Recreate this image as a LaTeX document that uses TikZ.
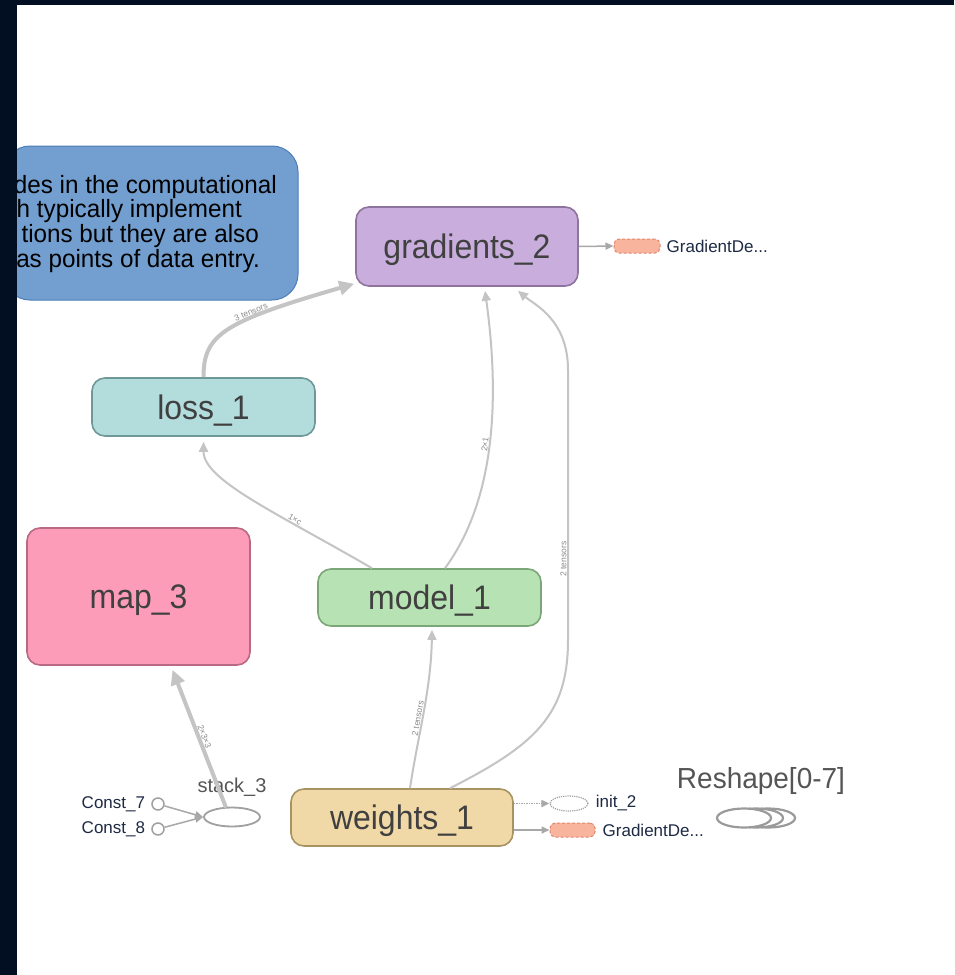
\documentclass[tikz,border=0pt]{standalone}
\usepackage{fontspec}
\setmainfont{Liberation Sans}
\usepackage{graphicx}
\usetikzlibrary{arrows.meta,shapes.geometric,calc}
\definecolor{bandc}{HTML}{020F22}
\definecolor{calloutf}{HTML}{729FD0}
\definecolor{calloutd}{HTML}{4D7DBA}
\definecolor{gradf}{HTML}{C9AEDD}
\definecolor{gradd}{HTML}{8F739F}
\definecolor{lossf}{HTML}{B3DCDD}
\definecolor{lossd}{HTML}{6F9899}
\definecolor{mapf}{HTML}{FD9CB9}
\definecolor{mapd}{HTML}{B86A82}
\definecolor{modelf}{HTML}{B7E2B3}
\definecolor{modeld}{HTML}{7BA677}
\definecolor{weightsf}{HTML}{F0D9A7}
\definecolor{weightsd}{HTML}{A89463}
\definecolor{edgec}{HTML}{C4C4C4}
\definecolor{smalledgec}{HTML}{A8A8A8}
\definecolor{salmon}{HTML}{F9B49E}
\definecolor{salmond}{HTML}{E0866B}
\definecolor{labc}{HTML}{404040}
\definecolor{smallc}{HTML}{1E2A44}
\definecolor{elabc}{HTML}{8A8A8A}
\definecolor{constc}{HTML}{A0A0A0}
\definecolor{reshc}{HTML}{555555}
\definecolor{reshd}{HTML}{9A9A9A}
\begin{document}
\begin{tikzpicture}[x=1pt,y=-1pt,
  opnode/.style={draw, line width=1.6pt, rounded corners=13pt, inner sep=0pt, text=labc,
    font=\fontsize{34}{34}\selectfont, text height=24.5pt, text depth=0pt},
  edge/.style={draw=edgec, color=edgec, line width=2pt, -{Triangle[length=10pt,width=9pt]}},
  thickedge/.style={draw=edgec, color=edgec, line width=4pt, -{Triangle[length=15pt,width=14pt]}},
  smalledge/.style={draw=smalledgec, color=smalledgec, line width=1.5pt, -{Triangle[length=8pt,width=7pt]}},
  elab/.style={font=\fontsize{8.5}{8.5}\selectfont, text=elabc, inner sep=0.5pt},
  smalltext/.style={font=\fontsize{17}{17}\selectfont, text=smallc, inner sep=0pt},
  gdnode/.style={draw=salmond, fill=salmon, densely dashed, line width=1pt, rounded corners=5pt,
    minimum height=14pt, inner sep=0pt},
  constnode/.style={circle, draw=constc, line width=1.5pt, fill=white, minimum size=12pt, inner sep=0pt},
  calltext/.style={font=\fontsize{25}{25}\selectfont, text=black, inner sep=0pt, anchor=base east},
  reshnode/.style={ellipse, draw=reshd, line width=2.2pt, fill=white, minimum width=54pt, minimum height=19pt, inner sep=0pt}
]
\useasboundingbox (0,0) rectangle (954,975);
\fill[white] (0,0) rectangle (954,975);

% callout
\draw[fill=calloutf, draw=calloutd, line width=1pt, rounded corners=26pt] (4,146) rectangle (298,300);
\node[calltext] (t1) at (277,193) {\scalebox{0.97}[1]{des in the computational}};
\node[calltext] (t2) at (242,217) {\scalebox{0.97}[1]{h typically implement}};
\node[calltext] (t3) at (259,242) {\scalebox{0.97}[1]{tions but they are also}};
\node[calltext] (t4) at (260,267) {\scalebox{0.97}[1]{as points of data entry.}};

% main nodes
\node[opnode, fill=gradf, draw=gradd, minimum width=222pt, minimum height=79pt] (grad) at (467,246.5) {\scalebox{0.94}[1]{gradients\_2}};
\node[opnode, fill=lossf, draw=lossd, minimum width=223pt, minimum height=58pt] (loss) at (203.5,407) {\scalebox{0.94}[1]{loss\_1}};
\node[opnode, fill=mapf, draw=mapd, minimum width=223pt, minimum height=137pt] (map) at (138.5,596.5) {\scalebox{0.94}[1]{map\_3}};
\node[opnode, fill=modelf, draw=modeld, minimum width=223pt, minimum height=57pt] (model) at (429.5,597.5) {\scalebox{0.94}[1]{model\_1}};
\node[opnode, fill=weightsf, draw=weightsd, minimum width=222pt, minimum height=57pt] (weights) at (402,817.5) {\scalebox{0.94}[1]{weights\_1}};

% small nodes
\node[gdnode, minimum width=46pt, label={[smalltext, label distance=6pt]right:GradientDe...}] (gd1) at (637,246) {};
\node[gdnode, minimum width=45pt, label={[smalltext, label distance=7pt]right:GradientDe...}] (gd2) at (572.5,830) {};
\node[ellipse, draw=constc, densely dotted, line width=1.2pt, minimum width=38pt, minimum height=15pt, inner sep=0pt,
  label={[smalltext, label distance=7pt]right:init\_2}] (init) at (569,803.5) {};
\node[constnode, label={[smalltext, label distance=6pt]left:Const\_7}] (c7) at (158,804) {};
\node[constnode, label={[smalltext, label distance=6pt]left:Const\_8}] (c8) at (158,829) {};
\node[ellipse, draw=constc, line width=1.8pt, minimum width=56pt, minimum height=19pt, inner sep=0pt,
  label={[font=\fontsize{20}{20}\selectfont, text=reshc, inner sep=0pt, label distance=10pt]above:stack\_3}] (stack) at (232,817) {};

% Reshape group
\node[font=\fontsize{29}{29}\selectfont, text=reshc, inner sep=0pt] (reshlab) at (761,781) {\scalebox{0.965}[1]{Reshape[0-7]}};
\node[reshnode] (r3) at (768,818) {};
\node[reshnode] (r2) at (756,818) {};
\node[reshnode] (r1) at (744,818) {};

% edges
\draw[thickedge] (loss.north) .. controls (203.5,335) and (222,322) .. ([shift={(-1,-3)}]grad.south west)
  node[elab, pos=0.65, sloped, above] {3 tensors};
\draw[edge] ([xshift=-57.5pt]model.north) .. controls (275,512) and (203.5,480) .. ([yshift=-5pt]loss.south)
  node[elab, pos=0.3, sloped, above] {1×c};
\draw[edge] ([xshift=15.5pt]model.north) .. controls (495,500) and (500,400) .. ([xshift=18pt,yshift=-4pt]grad.south)
  node[elab, pos=0.5, sloped, above] {2×1};
\draw[edge] ([xshift=8pt]weights.north) .. controls (418,735) and (431,690) .. ([xshift=2.5pt,yshift=-3pt]model.south)
  node[elab, pos=0.45, sloped, above] {2 tensors};
\draw[edge] ([xshift=48pt]weights.north) .. controls (535,745) and (568,715) .. (568,640)
  -- (568,370) node[elab, pos=0.3, sloped, above] {2 tensors}
  .. controls (568,320) and (535,305) .. ([xshift=51pt,yshift=-4pt]grad.south);
\draw[thickedge] ([xshift=-6pt,yshift=-1pt]stack.north) -- ([xshift=34pt,yshift=-4pt]map.south)
  node[elab, pos=0.5, sloped, above] {2×3×3};

\draw[smalledge] (grad.east) -- (gd1.west);
\draw[smalledge, densely dotted, line width=1.8pt] ([yshift=14pt]weights.east) -- (init.west);
\draw[smalledge] ([yshift=-12.5pt]weights.east) -- (gd2.west);
\draw[smalledge] (c7) -- (stack.west);
\draw[smalledge] (c8) -- (stack.west);

% dark frame
\fill[bandc] (0,0) rectangle (954,5);
\fill[bandc] (0,0) rectangle (17,975);
\end{tikzpicture}
\end{document}
